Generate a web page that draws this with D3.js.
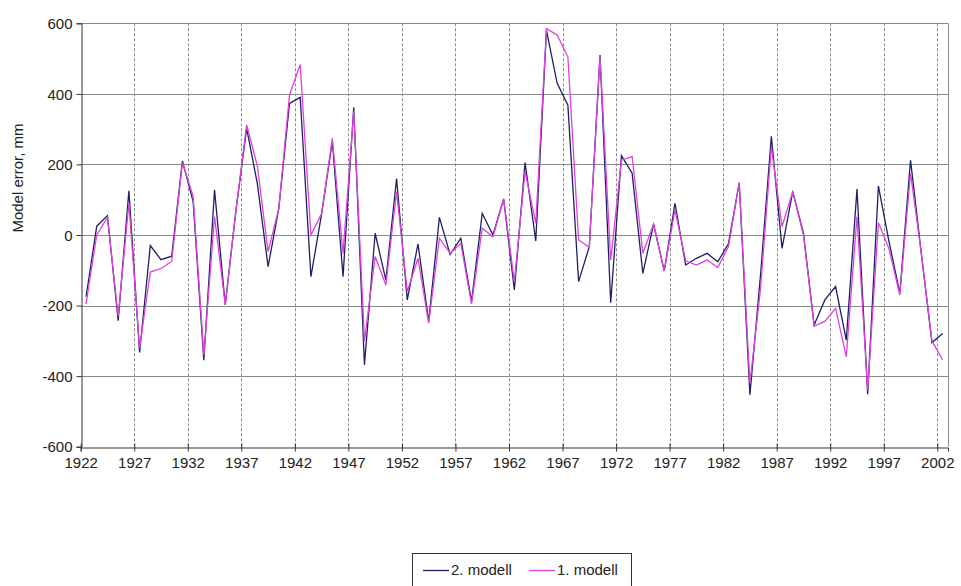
<!DOCTYPE html>
<html>
<head>
<meta charset="utf-8">
<script src="https://cdn.jsdelivr.net/npm/d3@7"></script>
<style>
  body { margin: 0; background: #fff; }
  text { font-family: "Liberation Sans", Arial, sans-serif; fill: #222; }
</style>
</head>
<body>
<script>
// years 1922..2002, one value per year
var years = d3.range(1922, 2003);

// 2. modell (dark line)
var model2 = [-175, 25, 55, -243, 125, -333, -30, -70, -60, 210,
              95, -355, 128, -198, 70, 302, 145, -90, 75, 373,
              390, -118, 60, 265, -118, 362, -368, 5, -128, 160,
              -184, -25, -245, 50, -55, -9, -189, 61, 0, 102,
              -156, 205, -17, 580, 430, 368, -132, -33, 510, -192,
              225, 175, -109, 31, -102, 90, -85, -66, -52, -76,
              -24, 148, -453, -110, 280, -38, 123, 5, -255, -184,
              -146, -298, 130, -451, 139, -20, -165, 212, -50, -305,
              -279];

// 1. modell (magenta line)
var model1 = [-195, 0, 50, -230, 90, -320, -105, -95, -75, 205,
              110, -340, 52, -198, 70, 312, 195, -47, 75, 397,
              483, 0, 61, 274, -52, 350, -300, -61, -142, 123,
              -160, -66, -250, -9, -52, -24, -195, 19, -5, 102,
              -132, 180, 33, 585, 567, 505, -14, -35, 505, -71,
              212, 222, -52, 31, -102, 71, -73, -85, -71, -92,
              -33, 148, -420, -150, 250, 24, 123, 0, -258, -245,
              -208, -345, 52, -440, 35, -40, -170, 175, -50, -300,
              -354];

var xTicks = [1922, 1927, 1932, 1937, 1942, 1947, 1952, 1957, 1962, 1967,
              1972, 1977, 1982, 1987, 1992, 1997, 2002];
var yTicks = [-600, -400, -200, 0, 200, 400, 600];

var series = [
  {name: '2. modell', values: model2, color: '#1d2063'},
  {name: '1. modell', values: model1, color: '#e040e0'}
];

var width = 961, height = 586;
var plot = {left: 80.7, right: 948, top: 23.3, bottom: 446.7};

var svg = d3.select('body').append('svg')
  .attr('width', width)
  .attr('height', height);

var x = d3.scaleLinear().domain([1922, 2003]).range([plot.left, plot.right]);
var y = d3.scaleLinear().domain([-600, 600]).range([plot.bottom, plot.top]);

// Horizontal gridlines
svg.append('g')
  .selectAll('line')
  .data(yTicks.filter(function(d){ return d > -600; }))
  .enter()
  .append('line')
    .attr('x1', plot.left)
    .attr('x2', plot.right)
    .attr('y1', function(d){ return Math.round(y(d)) + 0.5; })
    .attr('y2', function(d){ return Math.round(y(d)) + 0.5; })
    .style('stroke', '#8a8a8a')
    .style('stroke-width', 1);

// Vertical dashed gridlines
svg.append('g')
  .selectAll('line')
  .data(xTicks.slice(1))
  .enter()
  .append('line')
    .attr('x1', function(d){ return Math.round(x(d)) + 0.5; })
    .attr('x2', function(d){ return Math.round(x(d)) + 0.5; })
    .attr('y1', plot.top)
    .attr('y2', plot.bottom)
    .style('stroke', '#8a8a8a')
    .style('stroke-width', 1)
    .style('stroke-dasharray', '3,2');

// Right border of plot area
svg.append('line')
  .attr('x1', Math.round(plot.right) + 0.5)
  .attr('x2', Math.round(plot.right) + 0.5)
  .attr('y1', plot.top)
  .attr('y2', plot.bottom)
  .style('stroke', '#8a8a8a');

// Axes (plain hyphen for negatives, like the original)
var yAxis = d3.axisLeft(y).tickValues(yTicks)
  .tickFormat(function(d){ return String(d); })
  .tickSize(5).tickPadding(4);
var gy = svg.append('g')
  .attr('transform', 'translate(' + (Math.round(plot.left) + 0.5) + ',0)')
  .call(yAxis);

var xAxis = d3.axisBottom(x).tickValues(xTicks)
  .tickFormat(function(d){ return String(d); })
  .tickSize(4).tickPadding(6);
var gx = svg.append('g')
  .attr('transform', 'translate(0,' + (Math.round(plot.bottom) + 0.5) + ')')
  .call(xAxis);

[gx, gy].forEach(function(g){
  g.select('.domain').style('stroke', '#333');
  g.selectAll('.tick line').style('stroke', '#333');
  g.selectAll('.tick text')
    .style('font-size', '15px')
    .style('fill', '#222');
});
gy.selectAll('.tick text').attr('dy', '0.35em');
// x ticks cross the axis
gx.selectAll('.tick line').attr('y1', -4).attr('y2', 4);

// Y axis title
svg.append('text')
  .attr('transform', 'translate(23,178) rotate(-90)')
  .style('text-anchor', 'middle')
  .style('font-size', '15px')
  .text('Model error, mm');

// Lines
var line = d3.line()
  .x(function(d, i){ return x(years[i] + 0.5); })
  .y(function(d){ return y(d); });

svg.append('g')
  .selectAll('path')
  .data(series)
  .enter()
  .append('path')
    .attr('d', function(d){ return line(d.values); })
    .style('fill', 'none')
    .style('stroke', function(d){ return d.color; })
    .style('stroke-width', 1.3)
    .style('stroke-linejoin', 'miter');

// Legend
var legend = svg.append('g');
legend.append('rect')
  .attr('x', 412.5)
  .attr('y', 553.5)
  .attr('width', 219)
  .attr('height', 40)
  .style('fill', '#fff')
  .style('stroke', '#333');

var items = legend.selectAll('g.item')
  .data(series)
  .enter()
  .append('g')
    .attr('class', 'item')
    .attr('transform', function(d, i){ return 'translate(' + (423 + i * 106) + ',570)'; });

items.append('line')
  .attr('x1', 0)
  .attr('x2', 26)
  .attr('y1', 0.5)
  .attr('y2', 0.5)
  .style('stroke', function(d){ return d.color; })
  .style('stroke-width', 1.3);

items.append('text')
  .attr('x', 28)
  .attr('y', 0)
  .attr('dy', '0.35em')
  .style('font-size', '15px')
  .text(function(d){ return d.name; });
</script>
</body>
</html>
